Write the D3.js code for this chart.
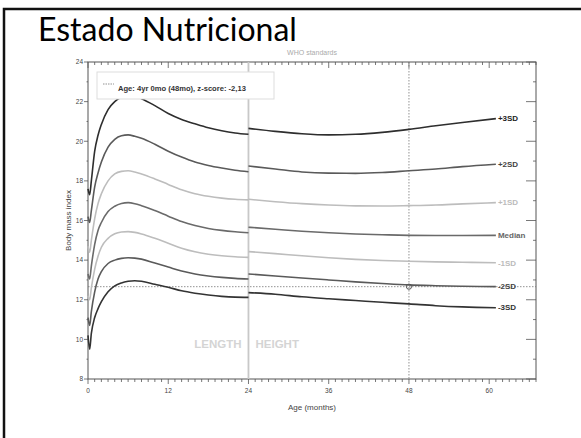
<!DOCTYPE html>
<html>
<head>
<meta charset="utf-8">
<script src="https://cdn.jsdelivr.net/npm/d3@7"></script>
<style>
  body { margin: 0; background: #fff; }
  svg { display: block; }
</style>
</head>
<body>
<div id="chart"></div>
<script>
// months for the two WHO segments (length 0-24, height 24-61)
const lengthMonths = [0, 0.25, 0.5, 1, 1.5, 2, 3, 4, 5, 6, 7, 8, 10, 12, 14, 16, 18, 20, 22, 24]
const heightMonths = [24, 28, 32, 36, 40, 44, 48, 52, 56, 61]

const curveNames = ['+3SD', '+2SD', '+1SD', 'Median', '-1SD', '-2SD', '-3SD']

const lengthValues = [
  [17.6, 17.3, 18.0, 19.5, 20.3, 20.85, 21.6, 22.0, 22.22, 22.3, 22.28, 22.15, 21.8, 21.4, 21.1, 20.88, 20.68, 20.53, 20.42, 20.35],
  [16.2, 15.9, 16.5, 17.7, 18.4, 18.95, 19.7, 20.1, 20.28, 20.32, 20.25, 20.15, 19.85, 19.5, 19.2, 18.95, 18.78, 18.65, 18.54, 18.46],
  [14.7, 14.4, 15.0, 16.1, 16.85, 17.35, 18.0, 18.35, 18.48, 18.51, 18.45, 18.35, 18.1, 17.82, 17.55, 17.35, 17.22, 17.13, 17.07, 17.04],
  [13.3, 13.05, 13.7, 14.8, 15.5, 15.9, 16.45, 16.72, 16.86, 16.9, 16.85, 16.75, 16.5, 16.22, 15.95, 15.75, 15.6, 15.5, 15.43, 15.38],
  [12.2, 12.0, 12.6, 13.55, 14.2, 14.65, 15.1, 15.33, 15.42, 15.44, 15.4, 15.32, 15.1, 14.85, 14.6, 14.42, 14.3, 14.22, 14.17, 14.14],
  [11.1, 10.7, 11.4, 12.4, 13.05, 13.42, 13.83, 14.0, 14.09, 14.12, 14.1, 14.05, 13.85, 13.65, 13.45, 13.3, 13.2, 13.13, 13.08, 13.05],
  [10.2, 9.5, 10.3, 11.1, 11.55, 11.9, 12.4, 12.7, 12.85, 12.93, 12.96, 12.93, 12.78, 12.63, 12.45, 12.33, 12.24, 12.17, 12.13, 12.12]
]

const heightValues = [
  [20.65, 20.5, 20.38, 20.32, 20.35, 20.45, 20.6, 20.78, 20.95, 21.14],
  [18.75, 18.6, 18.45, 18.39, 18.38, 18.42, 18.51, 18.6, 18.72, 18.84],
  [17.07, 16.95, 16.85, 16.78, 16.74, 16.73, 16.75, 16.78, 16.84, 16.9],
  [15.66, 15.56, 15.46, 15.38, 15.32, 15.28, 15.25, 15.24, 15.24, 15.25],
  [14.43, 14.33, 14.22, 14.12, 14.04, 13.98, 13.94, 13.91, 13.89, 13.87],
  [13.3, 13.2, 13.1, 13.0, 12.9, 12.82, 12.75, 12.71, 12.68, 12.66],
  [12.36, 12.28, 12.15, 12.05, 11.96, 11.87, 11.79, 11.7, 11.64, 11.6]
]

const patientAge = 48
const patientBmi = 12.66
const legendText = 'Age: 4yr 0mo (48mo), z-score: -2,13'
const xTicks = [0, 12, 24, 36, 48, 60]
const yTicks = [8, 10, 12, 14, 16, 18, 20, 22, 24]

const lineColors = ['#2e2e2e', '#5a5a5a', '#bdbdbd', '#6a6a6a', '#bdbdbd', '#5a5a5a', '#333']
const labelColors = ['#222', '#444', '#bbb', '#666', '#bbb', '#444', '#333']

const width = 581
const height = 438
const plot = { left: 88, right: 536, top: 62, bottom: 379 }

const svg = d3.select('#chart').append('svg')
  .attr('width', width)
  .attr('height', height)

// slide frame
svg.append('path')
  .attr('d', 'M4,460 V9 H590')
  .attr('fill', 'none')
  .attr('stroke', '#111')
  .attr('stroke-width', 2.5)

svg.append('text')
  .attr('x', 38)
  .attr('y', 41)
  .attr('font-family', 'Lato, "Open Sans", sans-serif')
  .attr('font-size', 32)
  .attr('fill', '#000')
  .text('Estado Nutricional')

const x = d3.scaleLinear().domain([0, 67]).range([plot.left, plot.right])
const y = d3.scaleLinear().domain([8, 24]).range([plot.bottom, plot.top])

const g = svg.append('g')
  .attr('font-family', '"Liberation Sans", Arial, sans-serif')

g.append('text')
  .attr('x', (plot.left + plot.right) / 2)
  .attr('y', 55)
  .attr('text-anchor', 'middle')
  .attr('font-size', 7)
  .attr('fill', '#aaa')
  .text('WHO standards')

// frame of the plot
g.append('rect')
  .attr('x', plot.left)
  .attr('y', plot.top)
  .attr('width', plot.right - plot.left)
  .attr('height', plot.bottom - plot.top)
  .attr('fill', 'none')
  .attr('stroke', '#555')
  .attr('stroke-width', 1)

// ticks: every month on bottom and top, every unit left and right
const monthTicks = d3.range(0, 68)
const tickLayer = g.append('g')
monthTicks.forEach((m) => {
  const major = m % 12 === 0
  tickLayer.append('line')
    .attr('x1', x(m)).attr('x2', x(m))
    .attr('y1', plot.bottom).attr('y2', plot.bottom + (major ? 5 : 3))
    .attr('stroke', '#555').attr('stroke-width', 0.8)
  tickLayer.append('line')
    .attr('x1', x(m)).attr('x2', x(m))
    .attr('y1', plot.top).attr('y2', plot.top + (major ? 6 : 3))
    .attr('stroke', '#555').attr('stroke-width', 0.8)
})
d3.range(8, 25).forEach((v) => {
  const major = v % 2 === 0
  tickLayer.append('line')
    .attr('x1', plot.left - (major ? 4 : 1.5)).attr('x2', plot.left)
    .attr('y1', y(v)).attr('y2', y(v))
    .attr('stroke', '#555').attr('stroke-width', 0.8)
  tickLayer.append('line')
    .attr('x1', plot.right - (major ? 10 : 3)).attr('x2', plot.right)
    .attr('y1', y(v)).attr('y2', y(v))
    .attr('stroke', '#555').attr('stroke-width', 0.8)
})

g.selectAll('.xlab')
  .data(xTicks)
  .enter().append('text')
  .attr('x', (d) => x(d))
  .attr('y', 393)
  .attr('text-anchor', 'middle')
  .attr('font-size', 6.5)
  .attr('fill', '#444')
  .text((d) => d)

g.selectAll('.ylab')
  .data(yTicks)
  .enter().append('text')
  .attr('x', plot.left - 5)
  .attr('y', (d) => y(d) + 2.3)
  .attr('text-anchor', 'end')
  .attr('font-size', 6.5)
  .attr('fill', '#444')
  .text((d) => d)

g.append('text')
  .attr('x', (plot.left + plot.right) / 2)
  .attr('y', 410)
  .attr('text-anchor', 'middle')
  .attr('font-size', 8)
  .attr('fill', '#444')
  .text('Age (months)')

g.append('text')
  .attr('transform', 'translate(71,' + (plot.top + plot.bottom) / 2 + ') rotate(-90)')
  .attr('text-anchor', 'middle')
  .attr('font-size', 8)
  .attr('fill', '#444')
  .text('Body mass index')

// length / height split
g.append('line')
  .attr('x1', x(24)).attr('x2', x(24))
  .attr('y1', plot.top).attr('y2', plot.bottom)
  .attr('stroke', '#c8c8c8').attr('stroke-width', 1.8)

g.append('text')
  .attr('x', x(24) - 7)
  .attr('y', 348)
  .attr('text-anchor', 'end')
  .attr('font-size', 11.5)
  .attr('font-weight', 'bold')
  .attr('fill', '#d4d4d4')
  .text('LENGTH')

g.append('text')
  .attr('x', x(24) + 7)
  .attr('y', 348)
  .attr('font-size', 11.5)
  .attr('font-weight', 'bold')
  .attr('fill', '#d4d4d4')
  .text('HEIGHT')

// patient guide lines
g.append('line')
  .attr('x1', x(patientAge)).attr('x2', x(patientAge))
  .attr('y1', plot.top).attr('y2', plot.bottom)
  .attr('stroke', '#777').attr('stroke-width', 0.8)
  .attr('stroke-dasharray', '1.5,1.5')

g.append('line')
  .attr('x1', plot.left).attr('x2', plot.right)
  .attr('y1', y(patientBmi)).attr('y2', y(patientBmi))
  .attr('stroke', '#777').attr('stroke-width', 0.8)
  .attr('stroke-dasharray', '1.5,1.5')

const line = d3.line()
  .x((d) => x(d[0]))
  .y((d) => y(d[1]))
  .curve(d3.curveMonotoneX)

curveNames.forEach((name, i) => {
  const segA = lengthMonths.map((m, j) => [m, lengthValues[i][j]])
  const segB = heightMonths.map((m, j) => [m, heightValues[i][j]])
  ;[segA, segB].forEach((seg) => {
    g.append('path')
      .datum(seg)
      .attr('d', line)
      .attr('fill', 'none')
      .attr('stroke', lineColors[i])
      .attr('stroke-width', 1.6)
  })
  const last = segB[segB.length - 1]
  g.append('text')
    .attr('x', x(last[0]) + 2)
    .attr('y', y(last[1]) + 2.8)
    .attr('font-size', 8)
    .attr('font-weight', 'bold')
    .attr('fill', labelColors[i])
    .text(name)
})

g.append('circle')
  .attr('cx', x(patientAge))
  .attr('cy', y(patientBmi))
  .attr('r', 2.6)
  .attr('fill', 'none')
  .attr('stroke', '#555')
  .attr('stroke-width', 1)

// legend
const legend = g.append('g')
legend.append('rect')
  .attr('x', 97).attr('y', 72)
  .attr('width', 177).attr('height', 27)
  .attr('fill', '#fff')
  .attr('stroke', '#ddd')
legend.append('line')
  .attr('x1', 103).attr('x2', 114)
  .attr('y1', 84).attr('y2', 84)
  .attr('stroke', '#777').attr('stroke-width', 0.8)
  .attr('stroke-dasharray', '1.5,1')
legend.append('text')
  .attr('x', 118).attr('y', 91)
  .attr('font-size', 7.6)
  .attr('font-weight', 'bold')
  .attr('fill', '#333')
  .text(legendText)
</script>
</body>
</html>
